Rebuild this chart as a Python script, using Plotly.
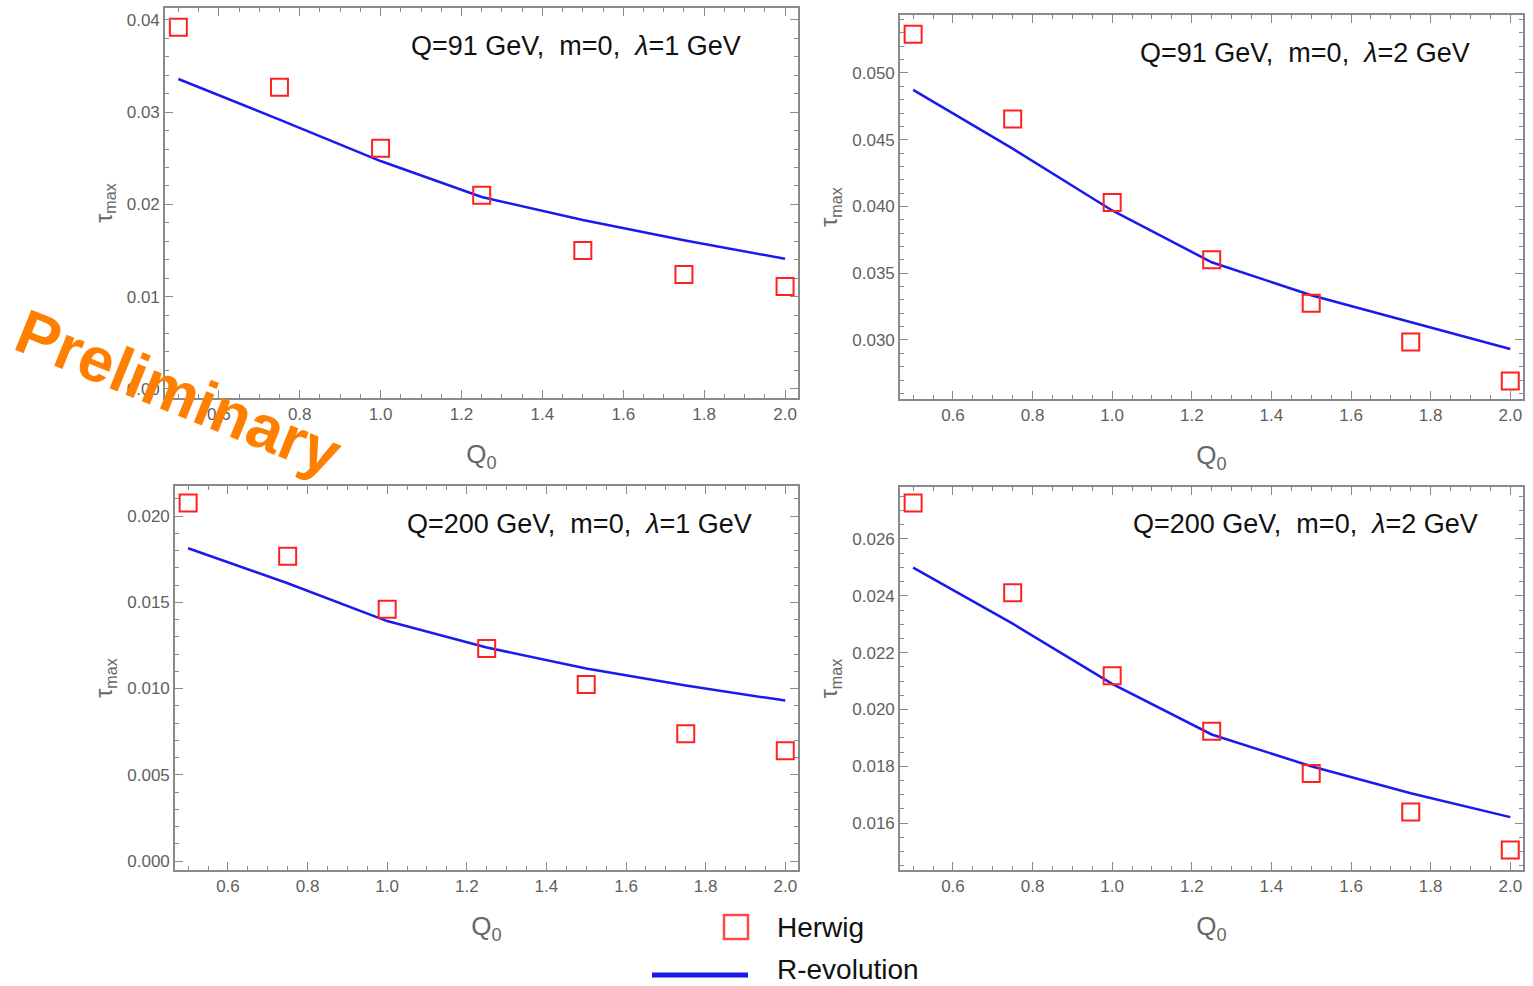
import plotly.graph_objects as go

q0 = [0.5, 0.75, 1.0, 1.25, 1.5, 1.75, 2.0]

# Panel data (Herwig points and R-evolution curve)
herwig_91_l1 = [0.0392, 0.0327, 0.0261, 0.0210, 0.0150, 0.0124, 0.0111]
revol_91_l1 = [0.0336, 0.0292, 0.0247, 0.0208, 0.0183, 0.0161, 0.0141]

herwig_91_l2 = [0.0529, 0.04655, 0.0403, 0.0360, 0.03275, 0.02985, 0.02693]
revol_91_l2 = [0.04873, 0.04433, 0.0397, 0.03582, 0.03335, 0.03135, 0.02933]

herwig_200_l1 = [0.02075, 0.01767, 0.0146, 0.01232, 0.01023, 0.00738, 0.00639]
revol_200_l1 = [0.01813, 0.0161, 0.01391, 0.01238, 0.01116, 0.01017, 0.00930]

herwig_200_l2 = [0.02727, 0.02411, 0.02119, 0.01923, 0.01775, 0.01639, 0.01505]
revol_200_l2 = [0.02499, 0.02302, 0.0209, 0.01912, 0.0180, 0.01705, 0.01621]

panel_labels = [
    "Q=91 GeV,  m=0,  <i>λ</i>=1 GeV",
    "Q=91 GeV,  m=0,  <i>λ</i>=2 GeV",
    "Q=200 GeV,  m=0,  <i>λ</i>=1 GeV",
    "Q=200 GeV,  m=0,  <i>λ</i>=2 GeV",
]
legend_labels = ["Herwig", "R-evolution"]

W, H = 1533, 986

panels = [
    dict(h=herwig_91_l1, r=revol_91_l1, box=(165, 798, 8, 398), yr=(-0.001, 0.0413),
         ydt=0.01, ymin=0.002, yfmt=".2f", lab=panel_labels[0], labc=(576, 46)),
    dict(h=herwig_91_l2, r=revol_91_l2, box=(900, 1523, 15, 399), yr=(0.02558, 0.05434),
         ydt=0.005, ymin=0.001, yfmt=".3f", lab=panel_labels[1], labc=(1305, 53)),
    dict(h=herwig_200_l1, r=revol_200_l1, box=(175, 798, 486, 870), yr=(-0.00052, 0.02174),
         ydt=0.005, ymin=0.001, yfmt=".3f", lab=panel_labels[2], labc=(579, 524)),
    dict(h=herwig_200_l2, r=revol_200_l2, box=(900, 1523, 487, 870), yr=(0.01435, 0.02783),
         ydt=0.002, ymin=0.0005, yfmt=".3f", lab=panel_labels[3], labc=(1305, 524)),
]

fig = go.Figure()
frame_col = "#8a8a8a"
tick_font = dict(family="Liberation Sans, Arial", size=17, color="#5f5f5f")
title_font = dict(family="Liberation Sans, Arial", size=26, color="#666666")

annotations = []
layout = {}
for i, p in enumerate(panels):
    n = "" if i == 0 else str(i + 1)
    x0, x1, y0, y1 = p["box"]
    xd = [x0 / W, x1 / W]
    yd = [1 - y1 / H, 1 - y0 / H]
    xa, ya = "x" + n, "y" + n
    fig.add_trace(go.Scatter(x=q0, y=p["r"], mode="lines", xaxis=xa, yaxis=ya,
                             line=dict(color="#1a1aee", width=2.5), showlegend=False))
    fig.add_trace(go.Scatter(x=q0, y=p["h"], mode="markers", xaxis=xa, yaxis=ya,
                             marker=dict(symbol="square-open", size=17, color="#ff2020",
                                         line=dict(width=2, color="#ff2020")),
                             showlegend=False))
    layout["xaxis" + n] = dict(
        domain=xd, anchor=ya, range=[0.467, 2.032], dtick=0.2, tick0=0.0,
        tickformat=".1f", ticks="inside", ticklen=8, tickwidth=1.2, tickcolor=frame_col,
        showline=True, linecolor=frame_col, linewidth=1.6, mirror="allticks",
        showgrid=False, zeroline=False, tickfont=tick_font,
        minor=dict(dtick=0.05, tick0=0.0, ticks="inside", ticklen=4, tickcolor=frame_col, showgrid=False),
        title=dict(text="Q<sub>0</sub>", font=title_font, standoff=22),
    )
    layout["yaxis" + n] = dict(
        domain=yd, anchor=xa, range=list(p["yr"]), dtick=p["ydt"], tick0=0.0,
        tickformat=p["yfmt"], ticks="inside", ticklen=8, tickwidth=1.2, tickcolor=frame_col,
        showline=True, linecolor=frame_col, linewidth=1.6, mirror="allticks",
        showgrid=False, zeroline=False, tickfont=tick_font,
        minor=dict(dtick=p["ymin"], tick0=0.0, ticks="inside", ticklen=4, tickcolor=frame_col, showgrid=False),
        title=dict(text="τ<sub>max</sub>", font=dict(family="Liberation Sans, Arial", size=23, color="#666666"), standoff=8),
    )
    cx, cy = p["labc"]
    annotations.append(dict(text=p["lab"], x=cx / W, y=1 - cy / H, xref="paper", yref="paper",
                            showarrow=False, xanchor="center", yanchor="middle",
                            font=dict(family="Liberation Sans, Arial", size=27, color="#111111")))

# Legend (manual)
shapes = [
    dict(type="rect", xref="paper", yref="paper", x0=724 / W, x1=748 / W, y0=1 - 939 / H, y1=1 - 915 / H,
         line=dict(color="#ff4a4a", width=2.5)),
    dict(type="line", xref="paper", yref="paper", x0=652 / W, x1=748 / W, y0=1 - 975 / H, y1=1 - 975 / H,
         line=dict(color="#1a1aee", width=5)),
]
annotations.append(dict(text=legend_labels[0], x=775 / W, y=1 - 927 / H, xref="paper", yref="paper",
                        showarrow=False, xanchor="left", yanchor="middle",
                        font=dict(family="Liberation Sans, Arial", size=28, color="#111111")))
annotations.append(dict(text=legend_labels[1], x=775 / W, y=1 - 969 / H, xref="paper", yref="paper",
                        showarrow=False, xanchor="left", yanchor="middle",
                        font=dict(family="Liberation Sans, Arial", size=28, color="#111111")))

# Watermark
annotations.append(dict(text="<b>Preliminary</b>", x=178 / W, y=1 - 392 / H, xref="paper", yref="paper",
                        showarrow=False, xanchor="center", yanchor="middle", textangle=22,
                        font=dict(family="Liberation Sans, Arial", size=63, color="#ff7f00")))

fig.update_layout(
    width=W, height=H, margin=dict(l=0, r=0, t=0, b=0),
    paper_bgcolor="white", plot_bgcolor="white",
    annotations=annotations, shapes=shapes, showlegend=False,
    **layout,
)

fig.write_html("out.html")
